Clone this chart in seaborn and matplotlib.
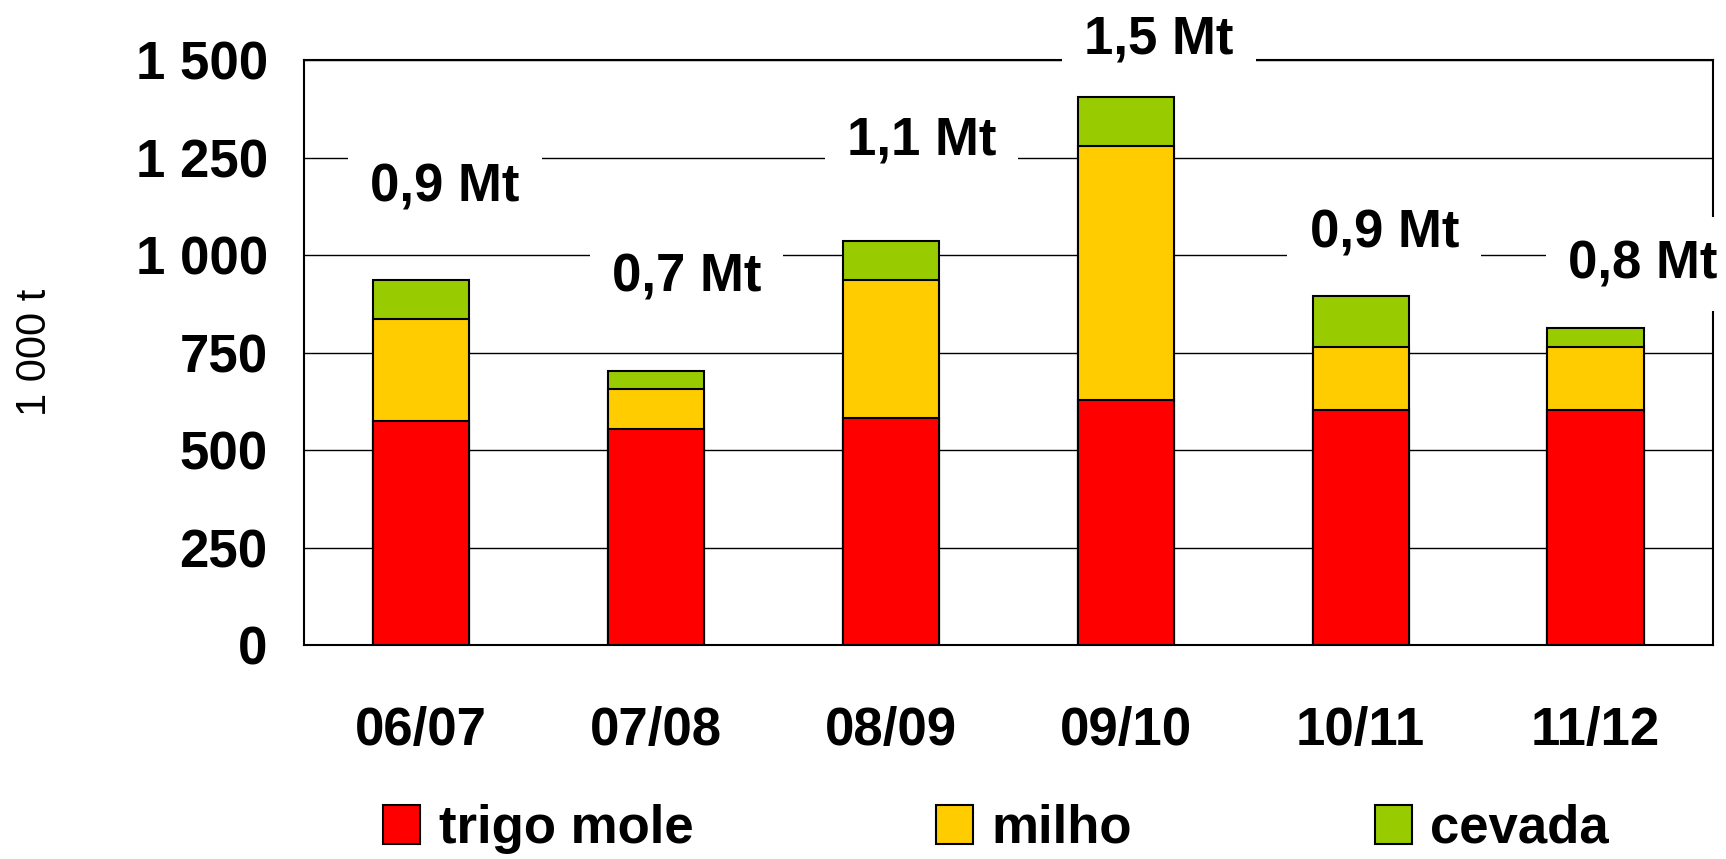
import numpy as np
import pandas as pd
import matplotlib
matplotlib.use("Agg")
import matplotlib.pyplot as plt
from matplotlib.patches import Patch
import seaborn as sns

# Data (1 000 t)
seasons = ["06/07", "07/08", "08/09", "09/10", "10/11", "11/12"]
trigo_mole = [576, 554, 582, 630, 602, 602]
milho = [260, 104, 356, 650, 164, 164]
cevada = [102, 45, 99, 127, 129, 48]
total_labels = ["0,9 Mt", "0,7 Mt", "1,1 Mt", "1,5 Mt", "0,9 Mt", "0,8 Mt"]
y_ticks = [0, 250, 500, 750, 1000, 1250, 1500]
y_tick_labels = ["0", "250", "500", "750", "1 000", "1 250", "1 500"]

# label placement (layout only)
label_dx = [0.10, 0.13, 0.13, 0.14, 0.10, 0.20]
label_y = [1175, 943, 1294, 1555, 1056, 977]

colors = {"trigo mole": "#FF0000", "milho": "#FFCC00", "cevada": "#99CC00"}

df = pd.DataFrame({
    "season": seasons,
    "trigo mole": trigo_mole,
    "milho": milho,
    "cevada": cevada,
})
df["c_trigo"] = df["trigo mole"]
df["c_milho"] = df["c_trigo"] + df["milho"]
df["c_cevada"] = df["c_milho"] + df["cevada"]

sns.set_style("white")
plt.rcParams["font.family"] = ["Liberation Sans", "DejaVu Sans"]
plt.rcParams["text.color"] = "black"
plt.rcParams["axes.labelcolor"] = "black"
plt.rcParams["xtick.color"] = "black"
plt.rcParams["ytick.color"] = "black"

FS = 38

fig = plt.figure(figsize=(17.26, 8.59), dpi=100)
ax = fig.add_axes([0.176, 0.249, 0.8165, 0.6806])

# stacked bars: draw cumulative totals from top to bottom
for col, name in [("c_cevada", "cevada"), ("c_milho", "milho"), ("c_trigo", "trigo mole")]:
    sns.barplot(data=df, x="season", y=col, color=colors[name], saturation=1,
                width=0.41, edgecolor="black", linewidth=1.5, ax=ax, zorder=2)

ax.set_ylim(0, 1500)
ax.set_xlim(-0.5, 5.5)
ax.set_yticks(y_ticks)
ax.set_yticklabels(y_tick_labels, fontsize=FS, fontweight="bold")
ax.set_xticks(range(len(seasons)))
ax.set_xticklabels(seasons, fontsize=FS, fontweight="bold")
ax.tick_params(axis="y", length=0, pad=26)
ax.tick_params(axis="x", length=0, pad=44)
ax.set_xlabel("")
ax.set_ylabel("1 000 t", fontsize=30, labelpad=58)

ax.yaxis.grid(True, color="black", linewidth=1.0)
ax.set_axisbelow(True)
for s in ax.spines.values():
    s.set_visible(True)
    s.set_color("black")
    s.set_linewidth(1.5)

for i, (txt, dx, yy) in enumerate(zip(total_labels, label_dx, label_y)):
    ax.text(i + dx, yy, txt, ha="center", va="center", fontsize=FS,
            fontweight="bold", clip_on=False, zorder=5,
            bbox=dict(facecolor="white", edgecolor="none", pad=16))

handles = [Patch(facecolor=colors[n], edgecolor="black", linewidth=1.5, label=n)
           for n in ["trigo mole", "milho", "cevada"]]
fig.legend(handles=handles, loc="center", bbox_to_anchor=(0.577, 0.035), ncol=3,
           frameon=False, prop={"size": FS, "weight": "bold"},
           handlelength=0.7, handleheight=0.75, handletextpad=0.35,
           columnspacing=4.6)

fig.savefig("out.png", dpi=100)
